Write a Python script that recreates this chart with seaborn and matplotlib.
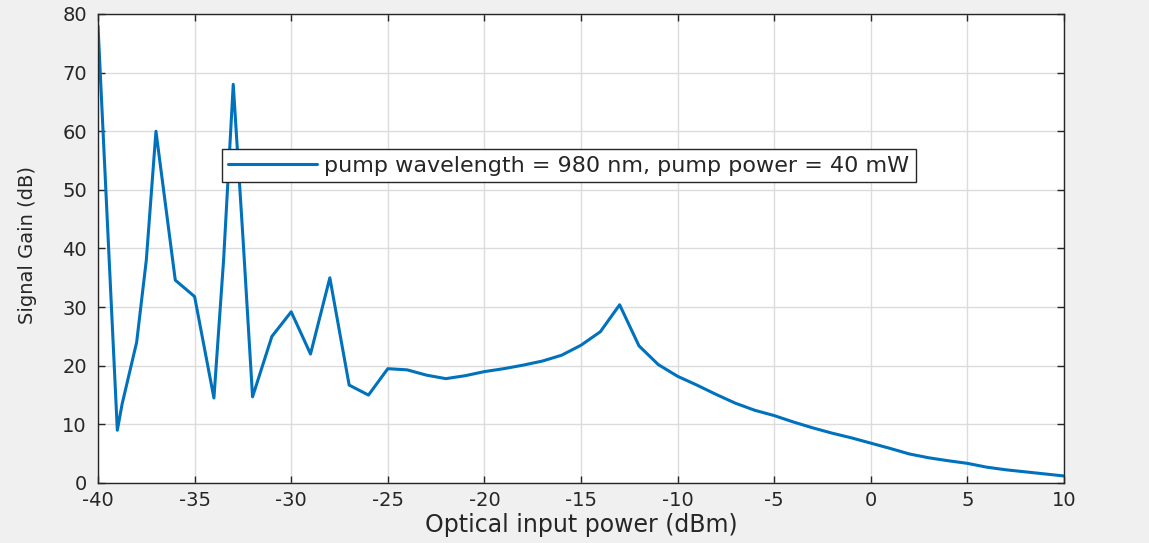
import matplotlib
matplotlib.use("Agg")
import matplotlib.pyplot as plt
import seaborn as sns
import pandas as pd

# Data
input_power_dbm = [-40, -39, -38.75, -38, -37.5, -37, -36, -35, -34, -33.5, -33, -32.5, -32,
                   -31, -30, -29, -28, -27, -26, -25, -24, -23, -22, -21, -20, -19, -18,
                   -17, -16, -15, -14, -13, -12, -11, -10, -9, -8, -7, -6, -5, -4, -3, -2,
                   -1, 0, 1, 2, 3, 4, 5, 6, 7, 8, 9, 10]
signal_gain_db = [78, 9, 13.5, 24, 38, 60, 34.6, 31.8, 14.5, 38, 68, 42, 14.7,
                  25, 29.2, 22, 35, 16.7, 15, 19.5, 19.3, 18.4, 17.8, 18.3, 19, 19.5, 20.1,
                  20.8, 21.8, 23.5, 25.8, 30.4, 23.4, 20.2, 18.2, 16.7, 15.1, 13.6, 12.4, 11.5, 10.4, 9.4, 8.5,
                  7.7, 6.8, 5.9, 4.95, 4.3, 3.8, 3.35, 2.7, 2.25, 1.9, 1.55, 1.2]
series_label = "pump wavelength = 980 nm, pump power = 40 mW"
x_ticks = [-40, -35, -30, -25, -20, -15, -10, -5, 0, 5, 10]
y_ticks = [0, 10, 20, 30, 40, 50, 60, 70, 80]

sns.set_theme(style="whitegrid")
plt.rcParams['font.family'] = ['DejaVu Sans']

W, H = 1149, 543
fig = plt.figure(figsize=(W / 100, H / 100), dpi=100, facecolor="#F0F0F0")
ax = fig.add_axes([98 / W, 1 - 483 / H, 966 / W, 469 / H])
ax.set_facecolor("white")

df = pd.DataFrame({"x": input_power_dbm, "y": signal_gain_db})
sns.lineplot(data=df, x="x", y="y", ax=ax, color="#0072BD", linewidth=2.2,
             label=series_label, sort=False, estimator=None)

ax.set_xlim(-40, 10)
ax.set_ylim(0, 80)
ax.set_xticks(x_ticks)
ax.set_yticks(y_ticks)
ax.set_xticklabels([str(t) for t in x_ticks])
ax.set_yticklabels([str(t) for t in y_ticks])

ax.grid(True, color="#DCDCDC", linewidth=1.0)
for s in ax.spines.values():
    s.set_visible(True)
    s.set_color("#262626")
    s.set_linewidth(1.0)

ax.tick_params(axis="both", which="major", direction="in", length=5, width=1,
               color="#262626", labelcolor="#262626", labelsize=14,
               top=True, right=True, bottom=True, left=True)
ax.tick_params(axis="x", pad=6)
ax.tick_params(axis="y", pad=8)

ax.set_xlabel("Optical input power (dBm)", fontsize=17, color="#262626")
ax.xaxis.label.set_va("center")
ax.xaxis.set_label_coords(0.5, (483 - 525) / 469)
ax.set_ylabel("Signal Gain (dB)", fontsize=14, color="#262626")
ax.yaxis.label.set_va("center")
ax.yaxis.set_label_coords((28 - 98) / 966, (483 - 245) / 469)

leg = ax.legend(loc="upper left", bbox_to_anchor=(0.128, 0.712), borderaxespad=0,
                fontsize=16, frameon=True, fancybox=False, handlelength=4.0,
                handletextpad=0.3, borderpad=0.3)
leg.get_frame().set_edgecolor("#262626")
leg.get_frame().set_linewidth(1.0)
leg.get_frame().set_facecolor("white")
leg.get_frame().set_alpha(1)
for t in leg.get_texts():
    t.set_color("#262626")

fig.savefig("out.png", dpi=100, facecolor=fig.get_facecolor())
